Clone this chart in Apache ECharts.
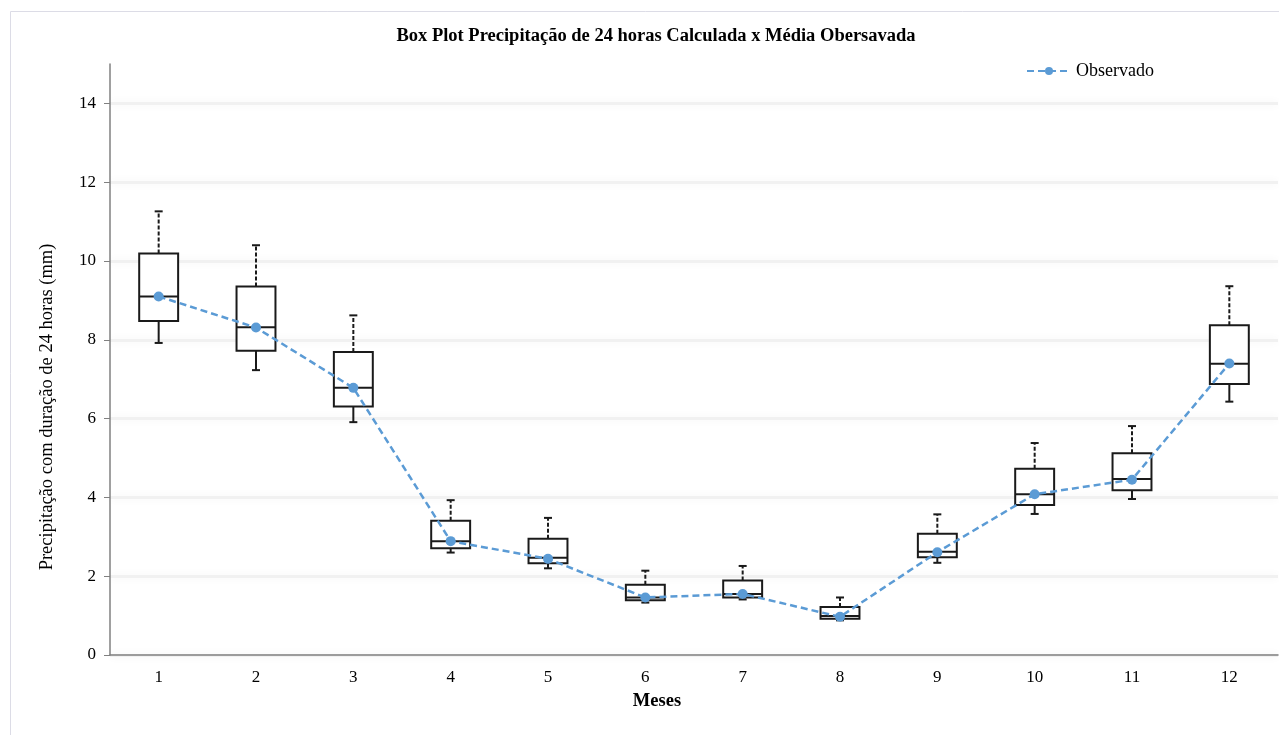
<!DOCTYPE html>
<html>
<head>
<meta charset="utf-8">
<script src="https://cdn.jsdelivr.net/npm/echarts@6/dist/echarts.min.js"></script>
<style>
  html, body { margin: 0; padding: 0; background: #fff; }
  #grafico { width: 1279px; height: 735px; }
</style>
</head>
<body>
<div id="grafico"></div>
<script>
var meses = ['1', '2', '3', '4', '5', '6', '7', '8', '9', '10', '11', '12'];
// box plot: min, q1, mediana, q3, max
var minimo  = [7.92, 7.23, 5.91, 2.60, 2.20, 1.33, 1.41, 0.88, 2.34, 3.58, 3.96, 6.43];
var q1      = [8.48, 7.72, 6.31, 2.71, 2.33, 1.39, 1.46, 0.92, 2.48, 3.81, 4.18, 6.88];
var mediana = [9.10, 8.32, 6.78, 2.89, 2.47, 1.46, 1.55, 0.99, 2.62, 4.08, 4.47, 7.39];
var q3      = [10.19, 9.35, 7.69, 3.41, 2.95, 1.78, 1.89, 1.22, 3.08, 4.73, 5.12, 8.37];
var maximo  = [11.26, 10.40, 8.62, 3.93, 3.48, 2.14, 2.26, 1.46, 3.57, 5.38, 5.81, 9.36];
var observado = [9.10, 8.31, 6.78, 2.89, 2.44, 1.46, 1.55, 0.97, 2.61, 4.08, 4.45, 7.40];
var yTicks = [0, 2, 4, 6, 8, 10, 12, 14];

var boxData = meses.map(function (m, i) {
  return [i, minimo[i], q1[i], mediana[i], q3[i], maximo[i]];
});

var fonte = '"Liberation Serif", "Times New Roman", serif';

var chartDom = document.getElementById('grafico');
var myChart = echarts.init(chartDom);
var option;

function desenhaCaixa(params, api) {
  var idx = api.value(0);
  var pMin = api.coord([idx, api.value(1)]);
  var pQ1 = api.coord([idx, api.value(2)]);
  var pMed = api.coord([idx, api.value(3)]);
  var pQ3 = api.coord([idx, api.value(4)]);
  var pMax = api.coord([idx, api.value(5)]);
  var largura = api.size([1, 0])[0] * 0.4;
  var x = pMed[0];
  var meia = largura / 2;
  var cap = 4;
  var estilo = { stroke: '#1a1a1a', lineWidth: 2, fill: null };
  var tracejado = { stroke: '#1a1a1a', lineWidth: 2, lineDash: [4, 2] };
  return {
    type: 'group',
    children: [
      { type: 'line', shape: { x1: x, y1: pQ3[1], x2: x, y2: pMax[1] }, style: tracejado },
      { type: 'line', shape: { x1: x - cap, y1: pMax[1], x2: x + cap, y2: pMax[1] }, style: estilo },
      { type: 'line', shape: { x1: x, y1: pQ1[1], x2: x, y2: pMin[1] }, style: estilo },
      { type: 'line', shape: { x1: x - cap, y1: pMin[1], x2: x + cap, y2: pMin[1] }, style: estilo },
      { type: 'rect', shape: { x: x - meia, y: pQ3[1], width: largura, height: pQ1[1] - pQ3[1] },
        style: { stroke: '#1a1a1a', lineWidth: 2, fill: '#ffffff' } },
      { type: 'line', shape: { x1: x - meia, y1: pMed[1], x2: x + meia, y2: pMed[1] }, style: estilo }
    ]
  };
}

option = {
  animation: false,
  backgroundColor: '#ffffff',
  title: {
    text: 'Box Plot Precipitação de 24 horas Calculada x Média Obersavada',
    left: 651,
    textAlign: 'center',
    top: 22,
    textStyle: { fontFamily: fonte, fontSize: 18.5, fontWeight: 'bold', color: '#000' }
  },
  legend: {
    data: ['Observado'],
    left: 1021,
    top: 57,
    itemWidth: 44,
    itemHeight: 10,
    textStyle: { fontFamily: fonte, fontSize: 18, color: '#000' }
  },
  grid: { left: 110, right: 1, top: 64, bottom: 80 },
  graphic: [
    {
      type: 'rect',
      shape: { x: 10.5, y: 11.5, width: 1300, height: 800 },
      style: { fill: null, stroke: '#dcdce6', lineWidth: 1 },
      silent: true, z: -1
    },
    {
      type: 'text',
      x: 47, y: 407,
      rotation: Math.PI / 2,
      style: {
        text: 'Precipitação com duração de 24 horas (mm)',
        font: '18.5px ' + fonte,
        fill: '#000',
        align: 'center',
        verticalAlign: 'middle'
      }
    },
    {
      type: 'text',
      x: 657, y: 701,
      style: {
        text: 'Meses',
        font: 'bold 18.5px ' + fonte,
        fill: '#000',
        align: 'center',
        verticalAlign: 'middle'
      }
    }
  ],
  xAxis: {
    type: 'category',
    data: meses,
    boundaryGap: true,
    axisLine: { lineStyle: { color: '#808080', width: 1.5 } },
    axisTick: { alignWithLabel: true, length: 5, lineStyle: { color: '#808080' } },
    axisLabel: { fontFamily: fonte, fontSize: 17, color: '#000', margin: 14 },
    splitLine: { show: false }
  },
  yAxis: {
    type: 'value',
    min: 0,
    max: 15,
    interval: 1,
    axisLine: { show: true, lineStyle: { color: '#808080', width: 1.5 } },
    axisTick: { show: true, length: 6, customValues: yTicks, lineStyle: { color: '#808080' } },
    axisLabel: { fontFamily: fonte, fontSize: 17, color: '#000', margin: 14, customValues: yTicks },
    splitLine: {
      show: true,
      lineStyle: { color: '#f1f1f1', width: 3, shadowBlur: 8, shadowColor: 'rgba(0,0,0,0.06)' }
    }
  },
  series: [
    {
      name: 'Calculada',
      type: 'custom',
      renderItem: desenhaCaixa,
      data: boxData,
      encode: { x: 0, y: [1, 2, 3, 4, 5] },
      z: 2
    },
    {
      name: 'Observado',
      type: 'line',
      data: observado,
      symbol: 'circle',
      symbolSize: 10,
      itemStyle: { color: '#5b9bd5' },
      lineStyle: { color: '#5b9bd5', width: 2.5, type: [7, 4] },
      z: 3
    }
  ]
};

option && myChart.setOption(option);
</script>
</body>
</html>
